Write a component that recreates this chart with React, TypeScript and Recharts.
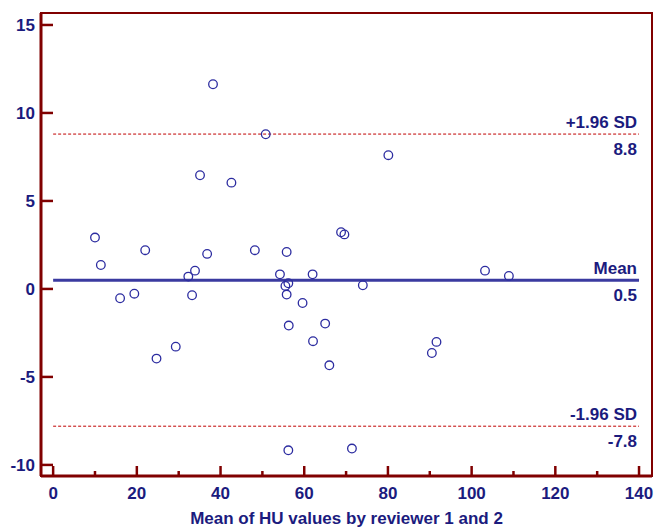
import React from "react";
import {
  ComposedChart, Scatter, XAxis, YAxis, ReferenceLine, ReferenceArea,
} from "recharts";

// mean of the two readings (x) and their difference (y)
const meanHU = [
  10.0, 11.4, 16.0, 19.4, 22.0, 24.7, 29.3, 32.3, 33.2, 33.9,
  35.1, 36.8, 38.2, 42.6, 48.2, 50.8, 54.2, 55.5, 56.2, 55.8,
  55.8, 56.3, 56.2, 59.6, 62.0, 62.1, 65.0, 66.0, 68.8, 69.6,
  71.4, 74.0, 80.1, 90.5, 91.6, 103.2, 108.9,
];
const diffHU = [
  2.92, 1.36, -0.53, -0.27, 2.2, -3.96, -3.28, 0.7, -0.36, 1.04,
  6.46, 1.99, 11.63, 6.04, 2.2, 8.79, 0.83, 0.17, 0.32, -0.32,
  2.1, -2.08, -9.17, -0.8, 0.83, -2.97, -1.97, -4.34, 3.22, 3.1,
  -9.07, 0.21, 7.6, -3.64, -3.01, 1.04, 0.74,
];

const xTicks = [0, 10, 20, 30, 40, 50, 60, 70, 80, 90, 100, 110, 120, 130, 140];
const yTicks = [-10, -5, 0, 5, 10, 15];

const meanDiff = 0.5;
const upperLimit = 8.8;
const lowerLimit = -7.8;

const X_DOMAIN: [number, number] = [-2.9, 143.1];
const Y_DOMAIN: [number, number] = [-10.63, 15.68];

const FRAME = "#800000";
const NAVY = "#1b1b7e";
const FONT = "'Liberation Sans', Arial, sans-serif";

const points = meanHU.map((x, i) => ({ x, y: diffHU[i] }));

function XTick(props: any) {
  const { x, y, payload } = props;
  const v = payload.value;
  const major = v % 20 === 0;
  return (
    <g>
      <line x1={x} x2={x} y1={y} y2={y - (major ? 10 : 5)} stroke={FRAME} strokeWidth={2.5} />
      {major && (
        <text x={x} y={y + 23} textAnchor="middle" fill={NAVY} fontSize={17} fontWeight="bold" fontFamily={FONT}>
          {v}
        </text>
      )}
    </g>
  );
}

function YTick(props: any) {
  const { x, y, payload } = props;
  return (
    <g>
      <line x1={x} x2={x + 12} y1={y} y2={y} stroke={FRAME} strokeWidth={2.5} />
      <text x={x - 6} y={y + 6} textAnchor="end" fill={NAVY} fontSize={17} fontWeight="bold" fontFamily={FONT}>
        {payload.value}
      </text>
    </g>
  );
}

const lineLabel = (top: string, bottom: string) => (props: any) => {
  const { viewBox } = props;
  const xr = viewBox.x + viewBox.width - 2;
  const y = viewBox.y;
  const common = { textAnchor: "end" as const, fill: NAVY, fontSize: 17, fontWeight: "bold", fontFamily: FONT };
  return (
    <g>
      <text x={xr} y={y - 6} {...common}>{top}</text>
      <text x={xr} y={y + 21} {...common}>{bottom}</text>
    </g>
  );
};

const Circle = (props: any) => (
  <circle cx={props.cx} cy={props.cy} r={4.3} fill="none" stroke="#2c2ca0" strokeWidth={1.3} />
);

export default function App() {
  return (
    <div style={{ width: 658, height: 531, background: "#fff" }}>
      <style>{`body{margin:0}`}</style>
      <ComposedChart width={658} height={531} data={points} margin={{ top: 13, right: 6, left: 0, bottom: 0 }}>
        <ReferenceArea
          x1={X_DOMAIN[0]} x2={X_DOMAIN[1]} y1={Y_DOMAIN[0]} y2={Y_DOMAIN[1]}
          fill="none" stroke={FRAME} strokeWidth={2} fillOpacity={0}
        />
        <XAxis
          type="number" dataKey="x" domain={X_DOMAIN} ticks={xTicks} allowDataOverflow
          height={55} tickSize={0} tickMargin={0} tickLine={false} interval={0}
          axisLine={{ stroke: FRAME, strokeWidth: 3 }} tick={<XTick />}
          label={{ value: "Mean of HU values by reviewer 1 and 2", position: "insideBottom", offset: 0, content: (p: any) => (
            <text x={p.viewBox.x + p.viewBox.width / 2} y={524} textAnchor="middle" fill={NAVY} fontSize={17} fontWeight="bold" fontFamily={FONT}>
              Mean of HU values by reviewer 1 and 2
            </text>
          ) }}
        />
        <YAxis
          type="number" dataKey="y" domain={Y_DOMAIN} ticks={yTicks} allowDataOverflow
          width={41} tickSize={0} tickMargin={0} tickLine={false} interval={0}
          axisLine={{ stroke: FRAME, strokeWidth: 3 }} tick={<YTick />}
        />
        <ReferenceLine
          segment={[{ x: 0, y: upperLimit }, { x: 140, y: upperLimit }]}
          stroke="#c00000" strokeWidth={1} strokeDasharray="3 2"
          label={{ content: lineLabel("+1.96 SD", upperLimit.toFixed(1)) }}
        />
        <ReferenceLine
          segment={[{ x: 0, y: lowerLimit }, { x: 140, y: lowerLimit }]}
          stroke="#c00000" strokeWidth={1} strokeDasharray="3 2"
          label={{ content: lineLabel("-1.96 SD", lowerLimit.toFixed(1)) }}
        />
        <ReferenceLine
          segment={[{ x: 0, y: meanDiff }, { x: 140, y: meanDiff }]}
          stroke="#3a3aa0" strokeWidth={3}
          label={{ content: lineLabel("Mean", meanDiff.toFixed(1)) }}
        />
        <Scatter dataKey="y" shape={<Circle />} isAnimationActive={false} />
      </ComposedChart>
    </div>
  );
}
